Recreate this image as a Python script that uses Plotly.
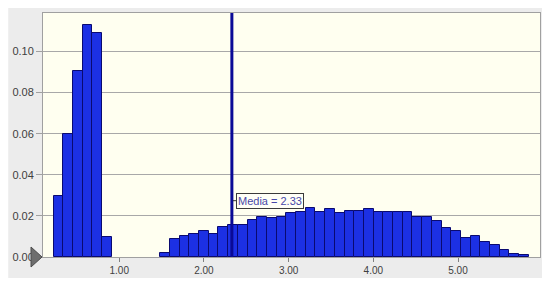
import plotly.graph_objects as go

# histogram bins (equal width), heights
bin_start = 0.225
bin_width = 0.1145
freq = [
    0.0298, 0.0600, 0.0907, 0.1128, 0.1092, 0.0095,
    None, None, None, None, None,
    0.0018, 0.0090, 0.0104, 0.0110, 0.0125, 0.0114, 0.0145, 0.0155,
    0.0155, 0.0182, 0.0194, 0.0190, 0.0197, 0.0213, 0.0218, 0.0239,
    0.0218, 0.0234, 0.0214, 0.0223, 0.0224, 0.0235, 0.0219, 0.0219,
    0.0219, 0.0219, 0.0195, 0.0195, 0.0174, 0.0142, 0.0126, 0.0093,
    0.0100, 0.0073, 0.0056, 0.0032, 0.0015, 0.0008,
]
mean_value = 2.33
mean_label = "Media = 2.33"
x_ticks = [1, 2, 3, 4, 5]
y_ticks = [0.0, 0.02, 0.04, 0.06, 0.08, 0.10]

font = "Liberation Sans, Arial, sans-serif"

fig = go.Figure()

fig.add_trace(go.Bar(
    x0=bin_start + bin_width / 2,
    dx=bin_width,
    y=freq,
    width=bin_width,
    marker=dict(color="#1c30e4", line=dict(color="#0a0a70", width=1)),
    showlegend=False,
    hoverinfo="skip",
))

# the page body has an 8px margin, so the figure is sized 8px smaller
shapes = [
    # grey panel behind the chart
    dict(type="rect", xref="paper", yref="paper", x0=-0.07, x1=1.012,
         y0=-0.086, y1=1.02, fillcolor="#ececec", line=dict(width=0), layer="below"),
    # cream plot area
    dict(type="rect", xref="paper", yref="paper", x0=0, x1=1, y0=0, y1=1,
         fillcolor="#fffff0", line=dict(width=0), layer="below"),
    # mean line
    dict(type="line", xref="x", yref="paper", x0=mean_value, x1=mean_value,
         y0=0, y1=1, line=dict(color="#0a0a96", width=3), layer="above"),
    # small tick joining the label
    dict(type="line", xref="x", yref="y", xsizemode="pixel", xanchor=mean_value,
         x0=1, x1=5, y0=0.0274, y1=0.0274, line=dict(color="#333333", width=1)),
    # slider triangle on the y axis
    dict(type="path", xref="paper", yref="paper", xsizemode="pixel", ysizemode="pixel",
         xanchor=0, yanchor=0, path="M -12,10 L -1,0 L -12,-10 Z",
         fillcolor="#6e6e6e", line=dict(color="#4a4a4a", width=1)),
]

fig.update_layout(
    width=542,
    height=280,
    margin=dict(l=32, r=10, t=4, b=31),
    paper_bgcolor="white",
    plot_bgcolor="#fffff0",
    bargap=0,
    font=dict(family=font, size=11, color="#404040"),
    shapes=shapes,
    annotations=[dict(
        x=mean_value, y=0.0274, xref="x", yref="y",
        text=mean_label, showarrow=False,
        xanchor="left", yanchor="middle", xshift=4,
        font=dict(family=font, size=11, color="#4848a8"),
        bgcolor="#fffff6", bordercolor="#3a3a3a", borderwidth=1, borderpad=1,
    )],
    xaxis=dict(
        range=[0.1, 5.968],
        tickvals=x_ticks,
        ticktext=[f"{v:.2f}" for v in x_ticks],
        ticks="outside", ticklen=4, tickcolor="#808080",
        showgrid=False, zeroline=False,
        showline=True, linecolor="#a0a0a0", mirror=True,
        tickfont=dict(size=10),
    ),
    yaxis=dict(
        range=[0, 0.1187],
        tickvals=y_ticks,
        ticktext=[f"{v:.2f}" for v in y_ticks],
        ticks="outside", ticklen=6, tickcolor="#a0a0a0",
        showgrid=True, gridcolor="#a8a8a8", gridwidth=1,
        zeroline=False,
        showline=True, linecolor="#a0a0a0", mirror=True,
        tickfont=dict(size=11),
    ),
)

fig.write_html("out.html")
